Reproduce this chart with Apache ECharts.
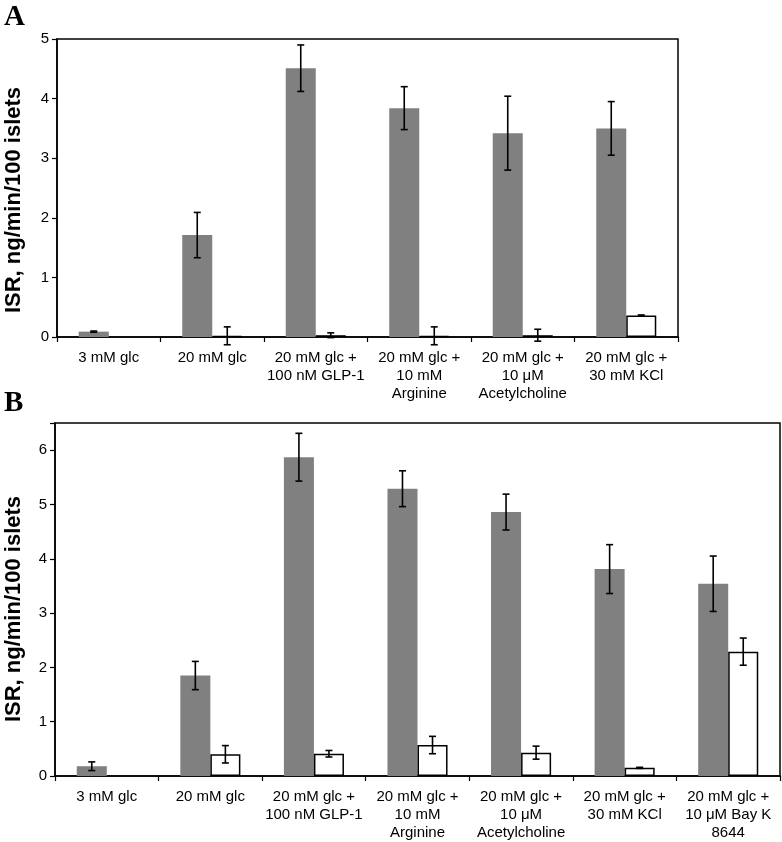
<!DOCTYPE html>
<html><head><meta charset="utf-8">
<script src="https://cdn.jsdelivr.net/npm/echarts@6/dist/echarts.min.js"></script>
<style>html,body{margin:0;padding:0;background:#fff}#c{width:782px;height:842px}</style>
</head><body><div id="c"></div>
<script>
const categoriesA = ['3 mM glc','20 mM glc','20 mM glc +\n100 nM GLP-1','20 mM glc +\n10 mM\nArginine','20 mM glc +\n10 μM\nAcetylcholine','20 mM glc +\n30 mM KCl'];
const grayA = [0.09, 1.71, 4.51, 3.84, 3.42, 3.50];
const grayErrA = [0.01, 0.38, 0.39, 0.36, 0.62, 0.45];
const whiteA = [null, 0.02, 0.03, 0.02, 0.03, 0.36];
const whiteErrA = [null, 0.15, 0.04, 0.15, 0.10, 0.01];

const categoriesB = ['3 mM glc','20 mM glc','20 mM glc +\n100 nM GLP-1','20 mM glc +\n10 mM\nArginine','20 mM glc +\n10 μM\nAcetylcholine','20 mM glc +\n30 mM KCl','20 mM glc +\n10 μM Bay K\n8644'];
const grayB = [0.18, 1.85, 5.87, 5.29, 4.86, 3.81, 3.54];
const grayErrB = [0.08, 0.26, 0.44, 0.33, 0.33, 0.45, 0.51];
const whiteB = [null, 0.40, 0.41, 0.57, 0.43, 0.15, 2.29];
const whiteErrB = [null, 0.16, 0.06, 0.16, 0.12, 0.01, 0.25];

const yTicksA = {min: 0, max: 5, interval: 1};
const yTicksB = {min: 0, max: 6.5, interval: 1};

const FONT = 'Liberation Sans, Arial, sans-serif';
const GAP = 0.42;

function errData(vals, errs){
  const out = [];
  vals.forEach((v,i)=>{ if(v!=null && errs[i]!=null) out.push([i, v, errs[i]]); });
  return out;
}
function errRender(sign){
  return function(params, api){
    const i = api.value(0), v = api.value(1), e = api.value(2);
    const band = api.size([1,0])[0];
    const barW = band*(1-GAP)/2;
    const x = api.coord([i, v])[0] + sign*barW/2;
    const yT = api.coord([i, v+e])[1], yB = api.coord([i, v-e])[1];
    const cap = 3.5;
    const st = {stroke:'#000', lineWidth:1.6};
    return {type:'group', children:[
      {type:'line', shape:{x1:x,y1:yT,x2:x,y2:yB}, style:st},
      {type:'line', shape:{x1:x-cap,y1:yT,x2:x+cap,y2:yT}, style:st},
      {type:'line', shape:{x1:x-cap,y1:yB,x2:x+cap,y2:yB}, style:st}
    ]};
  };
}
function xAxis(cats, gi){
  return {type:'category', gridIndex:gi, data:cats,
    axisLine:{lineStyle:{color:'#000', width:1.5}},
    axisTick:{show:true, inside:false, length:5, lineStyle:{color:'#000', width:1.2}},
    axisLabel:{color:'#000', fontFamily:FONT, fontSize:15, lineHeight:18, margin:12, interval:0}};
}
function yAxis(t, gi){
  return {type:'value', gridIndex:gi, min:t.min, max:t.max, interval:t.interval,
    splitLine:{show:false},
    axisLine:{show:true, lineStyle:{color:'#000', width:1.5}},
    axisTick:{show:true, length:5, lineStyle:{color:'#000', width:1.2}},
    axisLabel:{color:'#000', fontFamily:FONT, fontSize:15, margin:8,
      formatter: v => Number.isInteger(v) ? String(v) : ''}};
}
const barCommon = {barGap:'0%', barCategoryGap:(GAP*100)+'%', animation:false};

const chart = echarts.init(document.getElementById('c'), null, {renderer:'canvas'});
chart.setOption({
  animation:false,
  backgroundColor:'#fff',
  grid:[
    {left:57, top:39, width:621, height:298, show:true, borderColor:'#000', borderWidth:1.5, backgroundColor:'transparent'},
    {left:55, top:423, width:725, height:354, show:true, borderColor:'#000', borderWidth:1.5, backgroundColor:'transparent'}
  ],
  xAxis:[xAxis(categoriesA,0), xAxis(categoriesB,1)],
  yAxis:[yAxis(yTicksA,0), yAxis(yTicksB,1)],
  graphic:[
    {type:'text', left:4, top:3, style:{text:'A', font:'bold 29px "Liberation Serif", "Times New Roman", serif', fill:'#000'}},
    {type:'text', left:4, top:389, style:{text:'B', font:'bold 29px "Liberation Serif", "Times New Roman", serif', fill:'#000'}},
    {type:'text', x:14, y:200, rotation:Math.PI/2, style:{text:'ISR, ng/min/100 islets', font:'bold 22px "Liberation Sans", Arial, sans-serif', fill:'#000', align:'center', verticalAlign:'middle'}},
    {type:'text', x:14, y:609, rotation:Math.PI/2, style:{text:'ISR, ng/min/100 islets', font:'bold 22px "Liberation Sans", Arial, sans-serif', fill:'#000', align:'center', verticalAlign:'middle'}}
  ],
  series:[
    Object.assign({type:'bar', xAxisIndex:0, yAxisIndex:0, data:grayA, itemStyle:{color:'#808080'}}, barCommon),
    Object.assign({type:'bar', xAxisIndex:0, yAxisIndex:0, data:whiteA, itemStyle:{color:'#fff', borderColor:'#000', borderWidth:1.5}}, barCommon),
    Object.assign({type:'bar', xAxisIndex:1, yAxisIndex:1, data:grayB, itemStyle:{color:'#808080'}}, barCommon),
    Object.assign({type:'bar', xAxisIndex:1, yAxisIndex:1, data:whiteB, itemStyle:{color:'#fff', borderColor:'#000', borderWidth:1.5}}, barCommon),
    {type:'custom', xAxisIndex:0, yAxisIndex:0, data:errData(grayA, grayErrA), renderItem:errRender(-1), z:10, clip:false},
    {type:'custom', xAxisIndex:0, yAxisIndex:0, data:errData(whiteA, whiteErrA), renderItem:errRender(1), z:10, clip:false},
    {type:'custom', xAxisIndex:1, yAxisIndex:1, data:errData(grayB, grayErrB), renderItem:errRender(-1), z:10, clip:false},
    {type:'custom', xAxisIndex:1, yAxisIndex:1, data:errData(whiteB, whiteErrB), renderItem:errRender(1), z:10, clip:false}
  ]
});
</script></body></html>
